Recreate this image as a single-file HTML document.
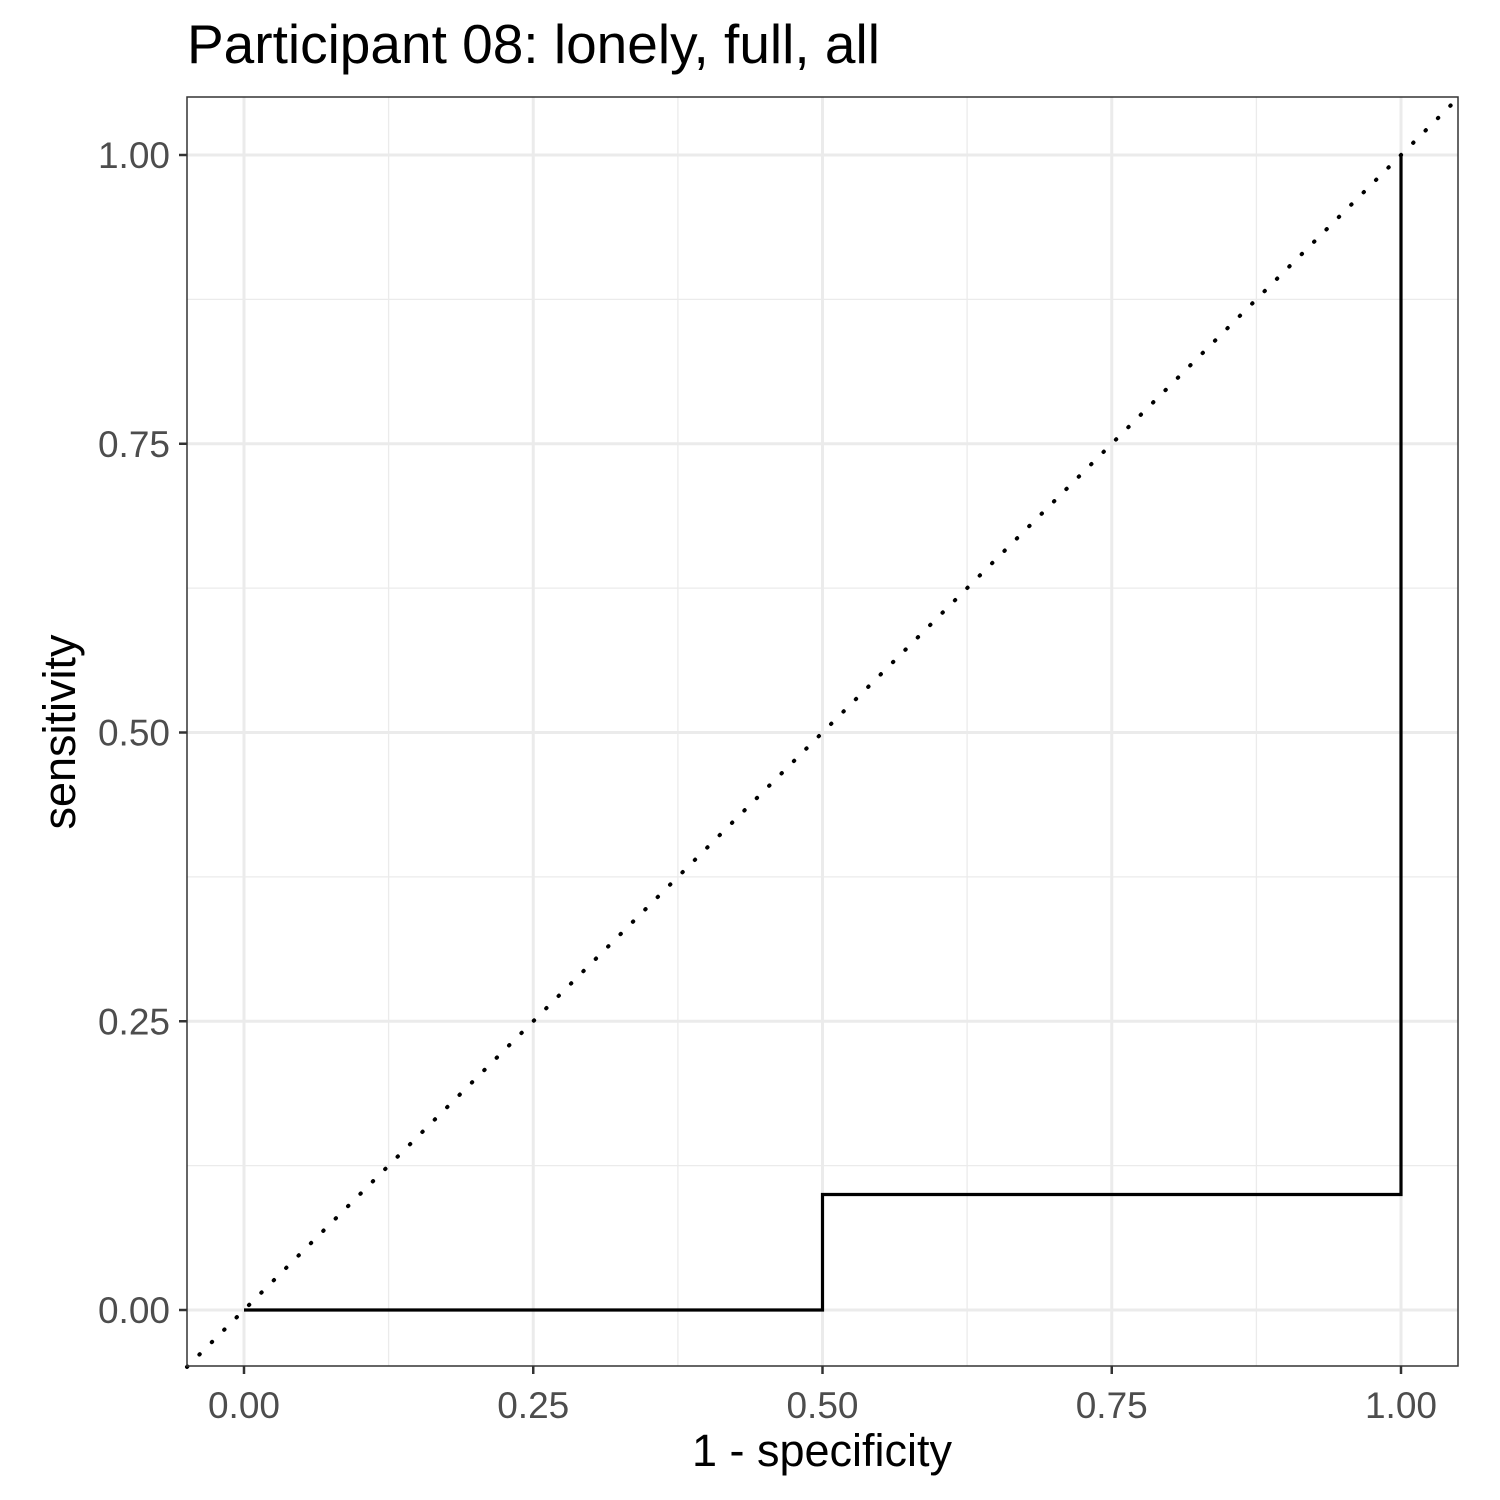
<!DOCTYPE html>
<html><head><meta charset="utf-8"><style>body{margin:0;background:#fff}svg{display:block}</style></head>
<body>
<svg width="1500" height="1500" xmlns="http://www.w3.org/2000/svg" font-family="Liberation Sans, Arial, sans-serif">
<rect width="1500" height="1500" fill="#fff"/>
<text x="187" y="63" font-size="55" fill="#000">Participant 08: lonely, full, all</text>
<g id="grid"></g>
<g id="marks"></g>
<rect x="187" y="97" width="1271" height="1269" fill="none" stroke="#333" stroke-width="1.5"/>
<g id="axes"></g>
<text x="822" y="1466" font-size="45" text-anchor="middle" fill="#000">1 - specificity</text>
<text transform="translate(75,732) rotate(-90)" font-size="45" text-anchor="middle" fill="#000">sensitivity</text>
</svg>
<script>
const ticks=[0,0.25,0.5,0.75,1];
const tickLabels=["0.00","0.25","0.50","0.75","1.00"];
const minorTicks=[0.125,0.375,0.625,0.875];
const rocX=[0,0.5,0.5,1,1];
const rocY=[0,0,0.1,0.1,1];
const xs=v=>244+v*1157, ys=v=>1310-v*1155;
const NS="http://www.w3.org/2000/svg";
function mk(tag,attrs,parent){const e=document.createElementNS(NS,tag);for(const k in attrs)e.setAttribute(k,attrs[k]);parent.appendChild(e);return e;}
const grid=document.getElementById('grid'),marks=document.getElementById('marks'),axes=document.getElementById('axes');
minorTicks.forEach(t=>{
 let a=mk('line',{x1:xs(t),x2:xs(t),y1:97,y2:1366,stroke:'#ebebeb','stroke-width':1.3},grid);
 
 let b=mk('line',{x1:187,x2:1458,y1:ys(t),y2:ys(t),stroke:'#ebebeb','stroke-width':1.3},grid);
 
});
ticks.forEach((t,i)=>{
 let a=mk('line',{x1:xs(t),x2:xs(t),y1:97,y2:1366,stroke:'#ebebeb','stroke-width':3},grid);
 
 let b=mk('line',{x1:187,x2:1458,y1:ys(t),y2:ys(t),stroke:'#ebebeb','stroke-width':3},grid);
 
 let c=mk('line',{x1:xs(t),x2:xs(t),y1:1366,y2:1374,stroke:'#333','stroke-width':2.5},axes);
 
 let d=mk('line',{x1:179,x2:187,y1:ys(t),y2:ys(t),stroke:'#333','stroke-width':2.5},axes);
 
 let tx=mk('text',{x:xs(t),y:1418,'font-size':37,'text-anchor':'middle',fill:'#4d4d4d'},axes);tx.textContent=tickLabels[i];
 
 let ty=mk('text',{x:170,y:ys(t)+13,'font-size':37,'text-anchor':'end',fill:'#4d4d4d'},axes);ty.textContent=tickLabels[i];
 
});
const x0=(187-244)/1157, x1=(1458-244)/1157;
let dg=mk('line',{x1:xs(x0),y1:ys(x0),x2:xs(x1),y2:ys(x1),stroke:'#000','stroke-width':4,'stroke-dasharray':'0.5 17','stroke-linecap':'round'},marks);

let pts=rocX.map((v,i)=>xs(v)+','+ys(rocY[i])).join(' ');
let pl=mk('polyline',{points:pts,fill:'none',stroke:'#000','stroke-width':3.2},marks);

</script>
</body></html>
